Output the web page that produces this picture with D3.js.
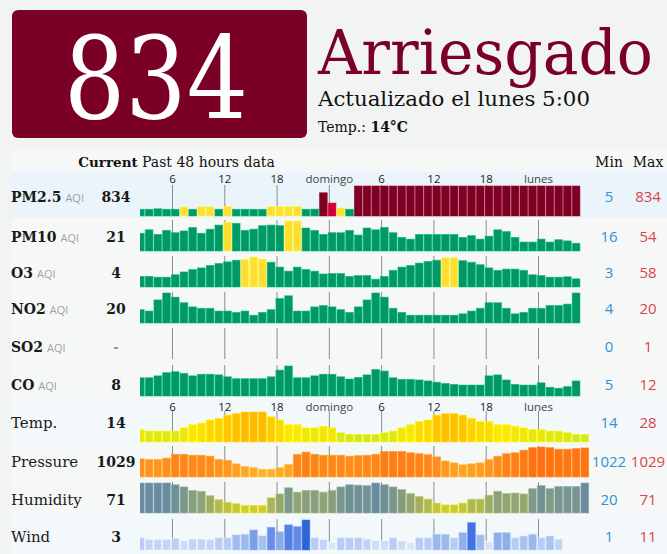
<!DOCTYPE html>
<html>
<head>
<meta charset="utf-8">
<script src="https://cdn.jsdelivr.net/npm/d3@7"></script>
<style>
  body { margin: 0; background: #f2f4f4; }
  svg { display: block; }
</style>
</head>
<body>
<div id="chart"></div>
<script>
var currentAqi = "834";
var levelText = "Arriesgado";
var updatedText = "Actualizado el lunes 5:00";
var currentTemp = "14°C";

var tickHours = [6, 12, 18, 24, 30, 36, 42, 48];
var tickLabels = ["6", "12", "18", "domingo", "6", "12", "18", "lunes"];
var firstHour = 1.87; // hour (from sábado 0:00) of the first bar

var rowNames = ["PM2.5", "PM10", "O3", "NO2", "SO2", "CO", "Temp.", "Pressure", "Humidity", "Wind"];
var rowIsAqi = [true, true, true, true, true, true, false, false, false, false];
var currentValues = ["834", "21", "4", "20", "-", "8", "14", "1029", "71", "3"];
var minValues = [5, 16, 3, 4, 0, 5, 14, 1022, 20, 1];
var maxValues = [834, 54, 58, 20, 1, 12, 28, 1029, 71, 11];

var pm25 = [42, 42, 49, 42, 42, 75, 42, 80, 78, 42, 85, 42, 42, 42, 42, 80, 82, 80, 85, 42, 44, 500, 155, 60, 42,
  834, 834, 834, 834, 834, 834, 834, 834, 834, 834, 834, 834, 834, 834, 834, 834, 834, 834, 834, 834, 834, 834, 834, 834, 834, 834];
var pm10 = [33, 39, 31, 38, 34, 37, 43, 33, 40, 47, 52, 50, 38, 40, 46, 47, 46, 54, 54, 42, 38, 31, 34, 34, 38,
  30, 42, 39, 43, 34, 26, 23, 31, 31, 31, 31, 31, 26, 29, 23, 28, 39, 36, 26, 18, 18, 23, 18, 22, 20, 16];
var o3 = [10, 10, 8, 8, 14, 21, 27, 31, 37, 42, 46, 50, 52, 58, 53, 45, 33, 23, 33, 27, 23, 16, 17, 17, 10,
  12, 12, 3, 10, 25, 33, 37, 43, 47, 50, 56, 56, 49, 45, 39, 31, 25, 28, 28, 25, 14, 12, 8, 8, 9, 4];
var no2 = [8, 7, 15, 20, 17, 13, 10, 9, 9, 7, 7, 6, 7, 4, 6, 8, 16, 18, 7, 7, 10, 11, 10, 8, 6,
  10, 15, 20, 17, 9, 6, 4, 4, 4, 4, 4, 4, 5, 7, 9, 13, 13, 9, 5, 6, 9, 9, 11, 11, 12, 20];
var so2 = [];
var co = [8.3, 8.3, 8.9, 9.9, 10.2, 9.7, 8.9, 9.4, 9.4, 9.2, 8.6, 8.0, 8.0, 8.0, 8.0, 8.6, 10.7, 12, 8.3, 8.3, 8.9, 9.4, 9.4, 8.6, 7.9,
  8.4, 9.2, 10.9, 10.4, 8.3, 7.8, 7.8, 7.6, 7.3, 6.9, 6.5, 6.2, 6.0, 6.0, 6.0, 8.9, 9.2, 7.6, 6.2, 6.0, 6.0, 6.7, 5.3, 5, 5.5, 7.3];
var temp = [17, 16, 16, 16, 16, 18, 20, 21, 23, 24, 26, 27, 28, 28, 28, 25, 23, 20, 20, 18, 18, 19, 18, 15, 14, 14,
  14, 14, 15, 16, 18, 20, 22, 23, 26, 27, 27, 26, 24, 22, 22, 20, 20, 19, 18, 17, 17, 16, 16, 15, 14, 14];
var pressure = [1025.3, 1025.1, 1025.1, 1025.5, 1026.7, 1026.7, 1026.4, 1026.4, 1026.1, 1025.1, 1024.8, 1023.7, 1022.9,
  1022.5, 1022, 1022, 1022.5, 1023.5, 1026.7, 1027.4, 1026.7, 1026.4, 1026.4, 1026.4, 1026.1, 1026.3,
  1026.4, 1026.7, 1027.6, 1027.6, 1027.6, 1027.2, 1026.9, 1026.6, 1025.9, 1024.6, 1024, 1023.4, 1023.7,
  1024, 1025, 1026.1, 1026.9, 1027.2, 1028, 1028.8, 1029, 1028.8, 1028.3, 1028.3, 1028.5, 1028.7];
var humidity = [71, 71, 71, 71, 67, 62, 54, 52, 42, 33, 27, 24, 20, 20, 20, 37, 46, 60, 50, 54, 54, 50, 54, 62, 67, 66,
  65, 71, 67, 62, 56, 47, 40, 34, 25, 21, 21, 25, 34, 34, 43, 52, 47, 48, 46, 58, 65, 58, 63, 63, 63, 71];
var wind = [3.0, 2.3, 2.3, 2.3, 2.8, 1.7, 2.4, 2.4, 2.3, 3.0, 3.0, 4.3, 4.6, 6.5, 3.9, 7.7, 5.7, 8.8, 8.0, 11, 3.0, 2.3, 1, 3.0, 3.0,
  3.0, 2.4, 1.7, 1.7, 3.0, 1.7, 1, 3.0, 3.0, 4.6, 4.6, 3.0, 5.3, 9.8, 4.3, 1.3, 5.3, 5.3, 3.0, 3.8, 4.6, 3.0, 3.8, 2.4];

var rowSeries = [pm25, pm10, o3, no2, so2, co, temp, pressure, humidity, wind];

// ---- layout ----
var fullWidth = 667, fullHeight = 554;
var rowBottom = [216, 251, 287, 323, 359, 396, 442, 477, 513, 550];
var rowText = [202, 242, 278, 314, 352, 390, 428, 467, 505, 542];
var barH = 30;

var svg = d3.select("#chart").append("svg")
  .attr("width", fullWidth)
  .attr("height", fullHeight);

// background panels
svg.append("rect").attr("x", 11).attr("y", 150).attr("width", 656).attr("height", 404).attr("fill", "#f6f8f8");
svg.append("rect").attr("x", 11).attr("y", 172).attr("width", 656).attr("height", 46).attr("fill", "#ecf4fb");
svg.append("rect").attr("x", 11).attr("y", 398).attr("width", 656).attr("height", 46).attr("fill", "#f3f8fb");
svg.append("rect").attr("x", 11).attr("y", 516).attr("width", 656).attr("height", 38).attr("fill", "#f3f8fb");

// ---- header ----
svg.append("rect")
  .attr("x", 12).attr("y", 10).attr("width", 295).attr("height", 128)
  .attr("rx", 6).attr("fill", "#7b0025");
svg.append("text")
  .attr("x", 156).attr("y", 118)
  .attr("text-anchor", "middle")
  .attr("font-family", "DejaVu Serif")
  .attr("font-size", 114)
  .attr("textLength", 184).attr("lengthAdjust", "spacingAndGlyphs")
  .attr("fill", "#fff")
  .text(currentAqi);
svg.append("text")
  .attr("x", 318).attr("y", 74)
  .attr("font-family", "DejaVu Serif")
  .attr("font-size", 61)
  .attr("textLength", 335).attr("lengthAdjust", "spacingAndGlyphs")
  .attr("fill", "#7b0025")
  .text(levelText);
svg.append("text")
  .attr("x", 318).attr("y", 106)
  .attr("font-family", "DejaVu Serif")
  .attr("font-size", 20)
  .attr("textLength", 272).attr("lengthAdjust", "spacingAndGlyphs")
  .attr("fill", "#111")
  .text(updatedText);
var tempLine = svg.append("text")
  .attr("x", 318).attr("y", 132)
  .attr("font-family", "DejaVu Serif")
  .attr("font-size", 14)
  .attr("fill", "#111");
tempLine.append("tspan").text("Temp.: ");
tempLine.append("tspan").attr("font-weight", "bold").text(currentTemp);

// ---- column headers ----
svg.append("text").attr("x", 108).attr("y", 167).attr("text-anchor", "middle")
  .attr("font-family", "DejaVu Serif").attr("font-size", 13.5).attr("font-weight", "bold")
  .attr("fill", "#111").text("Current");
svg.append("text").attr("x", 142).attr("y", 167)
  .attr("font-family", "DejaVu Serif").attr("font-size", 14)
  .attr("fill", "#111").text("Past 48 hours data");
svg.append("text").attr("x", 609).attr("y", 167).attr("text-anchor", "middle")
  .attr("font-family", "DejaVu Serif").attr("font-size", 14).attr("fill", "#111").text("Min");
svg.append("text").attr("x", 648).attr("y", 167).attr("text-anchor", "middle")
  .attr("font-family", "DejaVu Serif").attr("font-size", 14).attr("fill", "#111").text("Max");

// ---- scales ----
var x = d3.scaleLinear().domain([6, 48]).range([172.5, 538.5]);
var barW = x(1) - x(0) - 1;

function aqiColor(v) {
  if (v <= 50) return "#009966";
  if (v <= 100) return "#ffde33";
  if (v <= 150) return "#ff9933";
  if (v <= 200) return "#cc0033";
  if (v <= 300) return "#660099";
  return "#7e0023";
}
var weatherColors = {
  "Temp.": d3.scaleLinear().domain([14, 20, 28]).range(["#d2e81c", "#fde600", "#ffbb00"]).clamp(true),
  "Pressure": d3.scaleLinear().domain([1022, 1029]).range(["#ffb02a", "#ff7012"]).clamp(true),
  "Humidity": d3.scaleLinear().domain([20, 45, 71]).range(["#cfcc2c", "#98a86c", "#6a8c9e"]).clamp(true),
  "Wind": d3.scaleLinear().domain([1, 11]).range(["#dbe5f8", "#2f64d9"]).clamp(true)
};

svg.append("clipPath").attr("id", "plot-clip")
  .append("rect").attr("x", 140).attr("y", 150).attr("width", 460).attr("height", 404);

// ---- rows ----
rowNames.forEach(function(name, r) {
  var bottom = rowBottom[r];
  var values = rowSeries[r];
  var lo = minValues[r] - 0.35 * (maxValues[r] - minValues[r]);
  var y = r === 0
    ? d3.scaleSqrt().domain([0, maxValues[r]]).range([0, barH]).clamp(true)
    : d3.scaleLinear().domain([lo, maxValues[r]]).range([0, barH]).clamp(true);

  // tick lines (behind bars)
  svg.append("g").selectAll("line")
    .data(tickHours)
    .enter().append("line")
    .attr("x1", function(d) { return x(d); })
    .attr("x2", function(d) { return x(d); })
    .attr("y1", bottom - barH - 1)
    .attr("y2", bottom)
    .attr("stroke", "#8c8c8c")
    .attr("stroke-width", 1);

  var colorOf = rowIsAqi[r] ? aqiColor : weatherColors[name];
  svg.append("g").attr("clip-path", "url(#plot-clip)")
    .selectAll("rect")
    .data(values)
    .enter().append("rect")
    .attr("x", function(d, i) { return x(firstHour + i); })
    .attr("y", function(d) { return bottom - y(d); })
    .attr("width", barW)
    .attr("height", function(d) { return y(d); })
    .attr("fill", function(d) { return colorOf(d); })
    .attr("stroke", function(d) { return d3.color(colorOf(d)).brighter(0.5); })
    .attr("stroke-width", 0.8)
    .attr("stroke-opacity", 0.7);

  // row label
  var label = svg.append("text")
    .attr("x", 11).attr("y", rowText[r])
    .attr("font-family", "DejaVu Serif")
    .attr("fill", "#1a1a1a");
  if (rowIsAqi[r]) {
    label.attr("font-size", 14).attr("font-weight", "bold").text(name);
    label.append("tspan").attr("dx", 4)
      .attr("font-family", "Open Sans").attr("font-weight", "normal")
      .attr("font-size", 11).attr("fill", "#a0a0a0").text("AQI");
  } else {
    label.attr("font-size", 15).text(name);
  }

  svg.append("text").attr("x", 116).attr("y", rowText[r]).attr("text-anchor", "middle")
    .attr("font-family", "DejaVu Serif").attr("font-size", 14).attr("font-weight", "bold")
    .attr("fill", currentValues[r] === "-" ? "#999" : "#1a1a1a")
    .text(currentValues[r]);

  svg.append("text").attr("x", 609).attr("y", rowText[r]).attr("text-anchor", "middle")
    .attr("font-family", "Open Sans").attr("font-size", 15)
    .attr("fill", "#2f93d6").text(minValues[r]);
  svg.append("text").attr("x", 648).attr("y", rowText[r]).attr("text-anchor", "middle")
    .attr("font-family", "Open Sans").attr("font-size", 15)
    .attr("fill", "#d6454a").text(maxValues[r]);
});

// ---- hour tick labels above PM2.5 and Temp rows ----
[183, 411].forEach(function(yy) {
  svg.append("g").selectAll("text")
    .data(tickHours)
    .enter().append("text")
    .attr("x", function(d) { return x(d); })
    .attr("y", yy)
    .attr("text-anchor", "middle")
    .attr("font-family", "Open Sans")
    .attr("font-size", 11.5)
    .attr("fill", function(d, i) { return tickLabels[i].length > 2 ? "#444" : "#222"; })
    .text(function(d, i) { return tickLabels[i]; });
});
</script>
</body>
</html>
